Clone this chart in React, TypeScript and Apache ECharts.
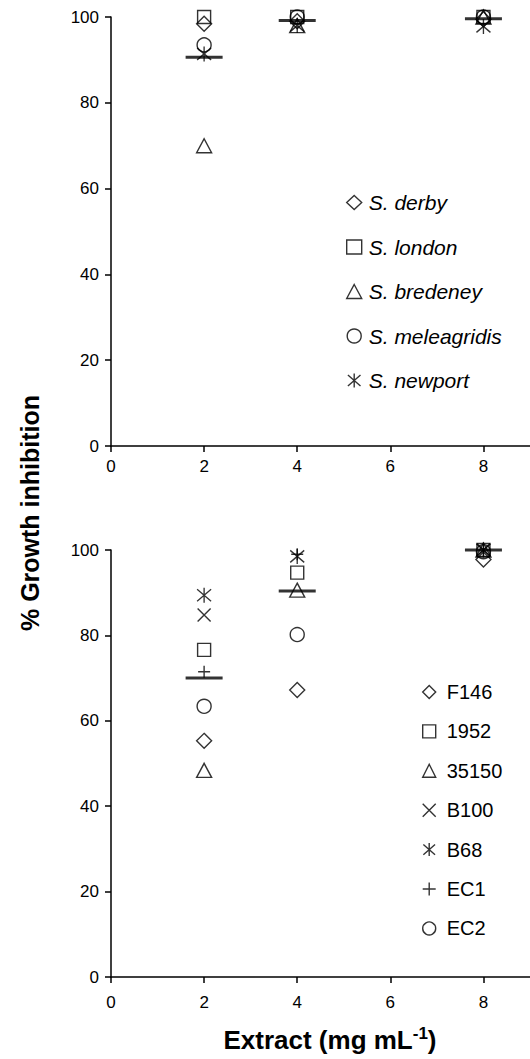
import React, { useEffect, useRef } from "react";
import * as echarts from "echarts";

// ---------- data ----------
const doses = [2, 4, 8];
const xTicks = [0, 2, 4, 6, 8];

// top panel: Salmonella serovars (% growth inhibition)
const topNames = ["S. derby", "S. london", "S. bredeney", "S. meleagridis", "S. newport"];
const sDerby = [98.4, 99, 99.5];
const sLondon = [100, 100, 100];
const sBredeney = [70, 98, 100];
const sMeleagridis = [93.5, 100, 100];
const sNewport = [91.4, 98, 97.8];
const topMean = [90.6, 99.2, 99.6];

// bottom panel: E. coli strains
const botNames = ["F146", "1952", "35150", "B100", "B68", "EC1", "EC2"];
const f146 = [55.3, 67.2, 97.8];
const s1952 = [76.6, 94.7, 100];
const s35150 = [48.4, 90.6, 100];
const b100 = [84.8, 100.6, 100];
const b68 = [89.4, 98.5, 100];
const ec1 = [71.5, 99, 100];
const ec2 = [63.4, 80.2, 99.6];
const botMean = [70, 90.4, 100];

const FONT = "'Liberation Sans', Arial, Helvetica, sans-serif";

const SYM = {
  diamond: { symbol: "diamond", size: [15, 15] },
  square: { symbol: "rect", size: [13, 13] },
  triangle: { symbol: "triangle", size: [15, 14] },
  circle: { symbol: "circle", size: [14, 14] },
  asterisk: { symbol: "path://M5 0L5 10M0.5 1L9.5 9M0.5 9L9.5 1", size: [14, 15] },
  cross: { symbol: "path://M0 0L10 10M0 10L10 0", size: [13, 13] },
  plus: { symbol: "path://M5 0L5 10M0 5L10 5", size: [12, 12] },
};

function pts(vals: number[]) {
  return doses.map((d, i) => [d, vals[i]]);
}

function scatter(name: string, vals: number[], sym: { symbol: string; size: number[] }, idx: number) {
  return {
    type: "scatter",
    name,
    xAxisIndex: idx,
    yAxisIndex: idx,
    data: pts(vals),
    symbol: sym.symbol,
    symbolSize: sym.size,
    itemStyle: { color: "rgba(255,255,255,0)", borderColor: "#000", borderWidth: 1.4 },
    emphasis: { disabled: true },
    z: 2,
  };
}

function meanSeries(vals: number[], idx: number) {
  return {
    type: "scatter",
    name: "mean" + idx,
    xAxisIndex: idx,
    yAxisIndex: idx,
    data: pts(vals),
    symbol: "rect",
    symbolSize: [37, 3],
    itemStyle: { color: "#000", borderWidth: 0 },
    silent: true,
    z: 5,
  };
}

const axisLineStyle = { lineStyle: { color: "#000", width: 1.5 } };

function xAxis(idx: number, margin: number) {
  return {
    type: "value",
    gridIndex: idx,
    min: 0,
    max: 9,
    interval: 2,
    splitLine: { show: false },
    axisLine: { show: true, onZero: false, ...axisLineStyle },
    axisTick: { show: true, length: 6, customValues: xTicks, ...axisLineStyle },
    axisLabel: { customValues: xTicks, color: "#000", fontSize: 17, fontFamily: FONT, margin },
  };
}

function yAxis(idx: number) {
  return {
    type: "value",
    gridIndex: idx,
    min: 0,
    max: 100,
    interval: 20,
    splitLine: { show: false },
    axisLine: { show: true, onZero: false, ...axisLineStyle },
    axisTick: { show: true, length: 6, ...axisLineStyle },
    axisLabel: { color: "#000", fontSize: 17, fontFamily: FONT, margin: 12 },
  };
}

export default function App() {
  const ref = useRef<HTMLDivElement>(null);
  useEffect(() => {
    if (!ref.current) return;
    const chart = echarts.init(ref.current, undefined, { renderer: "svg" });
    const topSyms = [SYM.diamond, SYM.square, SYM.triangle, SYM.circle, SYM.asterisk];
    const topVals = [sDerby, sLondon, sBredeney, sMeleagridis, sNewport];
    const botSyms = [SYM.diamond, SYM.square, SYM.triangle, SYM.cross, SYM.asterisk, SYM.plus, SYM.circle];
    const botVals = [f146, s1952, s35150, b100, b68, ec1, ec2];

    const series: any[] = [];
    topNames.forEach((n, i) => series.push(scatter(n, topVals[i], topSyms[i], 0)));
    botNames.forEach((n, i) => series.push(scatter(n, botVals[i], botSyms[i], 1)));
    series.push(meanSeries(topMean, 0));
    series.push(meanSeries(botMean, 1));

    chart.setOption({
      animation: false,
      backgroundColor: "#fff",
      grid: [
        { left: 111, right: 0, top: 17, height: 429 },
        { left: 111, right: 0, top: 550, height: 427 },
      ],
      xAxis: [xAxis(0, 12), xAxis(1, 17)],
      yAxis: [yAxis(0), yAxis(1)],
      legend: [
        {
          data: topNames,
          orient: "vertical",
          left: 346,
          top: 192,
          padding: 0,
          itemWidth: 15,
          itemHeight: 14,
          itemGap: 23.5,
          selectedMode: false,
          itemStyle: { color: "rgba(255,255,255,0)", borderColor: "#000", borderWidth: 1.4 },
          textStyle: { color: "#000", fontSize: 21, fontStyle: "italic", fontFamily: FONT, lineHeight: 21, padding: [0, 0, 0, 2] },
        },
        {
          data: botNames,
          orient: "vertical",
          left: 422,
          top: 682,
          padding: 0,
          itemWidth: 13,
          itemHeight: 13,
          itemGap: 19.4,
          selectedMode: false,
          itemStyle: { color: "rgba(255,255,255,0)", borderColor: "#000", borderWidth: 1.4 },
          textStyle: { color: "#000", fontSize: 20, fontFamily: FONT, lineHeight: 20, padding: [0, 0, 0, 6] },
        },
      ],
      graphic: [
        {
          type: "text",
          x: 30,
          y: 513,
          rotation: Math.PI / 2,
          style: {
            text: "% Growth inhibition",
            fill: "#000",
            font: `bold 25px ${FONT}`,
            align: "center",
            verticalAlign: "middle",
          },
        },
        {
          type: "text",
          x: 330,
          y: 1040,
          style: {
            text: "{a|Extract (mg mL}{s|-1}{a|)}",
            fill: "#000",
            align: "center",
            verticalAlign: "middle",
            rich: {
              a: { fontSize: 26, fontWeight: "bold", fontFamily: FONT, lineHeight: 30 },
              s: { fontSize: 17, fontWeight: "bold", fontFamily: FONT, padding: [0, 0, 13, 0] },
            },
          },
        },
      ],
      series,
    });
    return () => chart.dispose();
  }, []);
  return (
    <div
      ref={ref}
      style={{ position: "fixed", left: 0, top: 0, width: 530, height: 1059, background: "#fff" }}
    />
  );
}
